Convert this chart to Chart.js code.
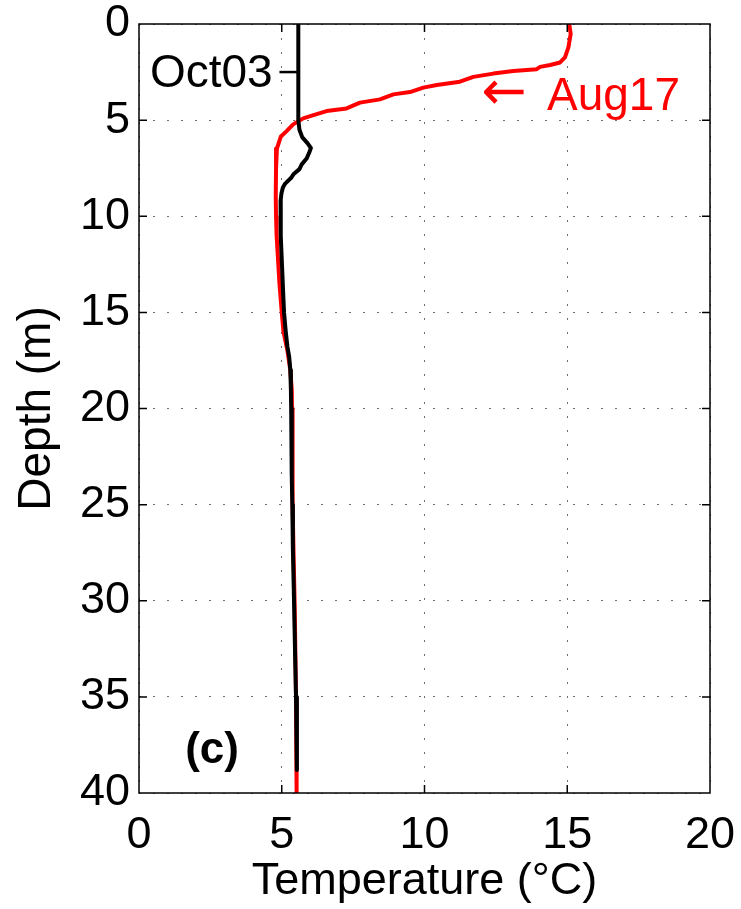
<!DOCTYPE html>
<html>
<head>
<meta charset="utf-8">
<script src="https://cdn.jsdelivr.net/npm/chart.js@4.4.1/dist/chart.umd.min.js"></script>
<style>
  html, body { margin: 0; padding: 0; background: #fff; }
  #wrap { width: 741px; height: 909px; }
</style>
</head>
<body>
<div id="wrap"><canvas id="profileChart" width="741" height="909"></canvas></div>
<script>
// 温度剖面数据：深度(m) 与 温度(°C)
const aug17Depth = [0, 0.52, 1.22, 1.74, 2.0, 2.13, 2.23, 2.35, 2.44, 2.58, 2.75, 3.0, 3.17, 3.31, 3.54, 3.66,
  3.92, 4.09, 4.39, 4.53, 4.74, 4.91, 5.22, 5.57, 5.85, 6.48, 7.5, 9, 10, 11, 12, 13.5, 15, 16, 17, 18, 19, 20,
  22, 25, 28, 30, 33, 35, 38, 40];
const aug17Temp = [15.07, 15.12, 15.04, 14.92, 14.75, 14.4, 14.05, 13.93, 13.11, 12.41, 11.71, 11.24, 10.43, 9.96, 9.49, 8.91,
  8.44, 7.74, 7.27, 6.57, 6.11, 5.75, 5.4, 5.17, 4.97, 4.83, 4.8, 4.79, 4.8, 4.82, 4.86, 4.92, 5.0, 5.06, 5.2, 5.3, 5.35, 5.36,
  5.37, 5.39, 5.42, 5.45, 5.48, 5.5, 5.52, 5.52];

const oct03Depth = [0, 5.0, 5.5, 5.9, 6.2, 6.45, 6.7, 7.0, 7.3, 7.55, 7.8, 8.0, 8.3, 8.5, 8.8, 9.2, 10, 11, 12.6,
  14, 15, 16, 16.8, 17.3, 18, 19, 20, 23.5, 25, 27.3, 30, 33, 35, 38.8];
const oct03Temp = [5.58, 5.58, 5.62, 5.72, 5.9, 6.02, 5.96, 5.87, 5.7, 5.62, 5.42, 5.33, 5.12, 5.04, 4.99, 4.96, 4.96, 4.97, 5.01,
  5.05, 5.08, 5.14, 5.2, 5.26, 5.3, 5.32, 5.33, 5.35, 5.37, 5.39, 5.43, 5.47, 5.5, 5.53];

const tempTicks = [0, 5, 10, 15, 20];
const depthTicks = [0, 5, 10, 15, 20, 25, 30, 35, 40];

const FONT = '"Liberation Sans", Arial, Helvetica, sans-serif';

function toPoints(xs, ys) {
  return xs.map((x, i) => ({ x: x, y: ys[i] }));
}

// 外框、内向刻度与文字注释
const frameAndNotes = {
  id: 'frameAndNotes',
  afterDraw(chart) {
    const { ctx, chartArea: a, scales: { x, y } } = chart;
    ctx.save();
    ctx.strokeStyle = '#000';
    ctx.lineWidth = 1.5;
    ctx.strokeRect(a.left, a.top, a.right - a.left, a.bottom - a.top);

    const len = 8;
    ctx.beginPath();
    tempTicks.slice(1, -1).forEach(v => {
      const px = x.getPixelForValue(v);
      ctx.moveTo(px, a.bottom); ctx.lineTo(px, a.bottom - len);
      ctx.moveTo(px, a.top); ctx.lineTo(px, a.top + len);
    });
    depthTicks.slice(1, -1).forEach(v => {
      const py = y.getPixelForValue(v);
      ctx.moveTo(a.left, py); ctx.lineTo(a.left + len, py);
      ctx.moveTo(a.right, py); ctx.lineTo(a.right - len, py);
    });
    ctx.stroke();

    // Oct03 标签与引线
    ctx.lineWidth = 2.5;
    ctx.beginPath();
    ctx.moveTo(x.getPixelForValue(4.92), y.getPixelForValue(2.5));
    ctx.lineTo(x.getPixelForValue(5.58), y.getPixelForValue(2.5));
    ctx.stroke();

    ctx.fillStyle = '#000';
    ctx.font = '46px ' + FONT;
    ctx.textAlign = 'right';
    ctx.textBaseline = 'middle';
    ctx.fillText('Oct03', x.getPixelForValue(4.68), y.getPixelForValue(2.5) + 2);

    // Aug17 标签
    ctx.fillStyle = '#ff0000';
    ctx.textAlign = 'left';
    ctx.font = '54px "DejaVu Sans", sans-serif';
    ctx.fillText('\u2190', x.getPixelForValue(12.0), y.getPixelForValue(3.7));
    ctx.font = '46px ' + FONT;
    ctx.fillText('Aug17', x.getPixelForValue(14.29), y.getPixelForValue(3.7) + 2);

    // 面板编号
    ctx.fillStyle = '#000';
    ctx.font = 'bold 44px ' + FONT;
    ctx.textAlign = 'center';
    ctx.fillText('(c)', x.getPixelForValue(2.56), y.getPixelForValue(37.8));
    ctx.restore();
  }
};

const gridOpts = { color: '#707070', lineWidth: 1, drawTicks: false };
const borderOpts = { display: false, dash: [2, 12] };

new Chart(document.getElementById('profileChart'), {
  type: 'scatter',
  data: {
    datasets: [
      {
        label: 'Oct03',
        data: toPoints(oct03Temp, oct03Depth),
        showLine: true,
        borderColor: '#000000',
        borderWidth: 4,
        pointRadius: 0,
        tension: 0,
        borderJoinStyle: 'round',
        borderCapStyle: 'round',
        order: 0
      },
      {
        label: 'Aug17',
        data: toPoints(aug17Temp, aug17Depth),
        showLine: true,
        borderColor: '#ff0000',
        borderWidth: 4,
        pointRadius: 0,
        tension: 0,
        borderJoinStyle: 'round',
        borderCapStyle: 'round',
        order: 1
      }
    ]
  },
  options: {
    responsive: false,
    animation: false,
    layout: { padding: { top: 24, right: 31, left: 0, bottom: 0 } },
    plugins: {
      legend: { display: false },
      tooltip: { enabled: false }
    },
    scales: {
      x: {
        type: 'linear',
        min: 0,
        max: 20,
        afterBuildTicks: s => { s.ticks = tempTicks.map(v => ({ value: v })); },
        afterFit: s => { s.height = 116; s.paddingLeft = 0; s.paddingRight = 0; },
        grid: gridOpts,
        border: borderOpts,
        ticks: { color: '#000', padding: 16, font: { family: FONT, size: 45 }, maxRotation: 0 },
        title: {
          display: true,
          text: 'Temperature (°C)',
          color: '#000',
          font: { family: FONT, size: 45 },
          padding: { top: 0, bottom: 0 }
        }
      },
      y: {
        type: 'linear',
        min: 0,
        max: 40,
        reverse: true,
        afterBuildTicks: s => { s.ticks = depthTicks.map(v => ({ value: v })); },
        afterFit: s => { s.width = 139; s.paddingTop = 0; s.paddingBottom = 0; },
        grid: gridOpts,
        border: borderOpts,
        ticks: { color: '#000', padding: 9, font: { family: FONT, size: 45 } },
        title: {
          display: true,
          text: 'Depth (m)',
          color: '#000',
          font: { family: FONT, size: 46 },
          padding: { top: 10, bottom: 0 }
        }
      }
    }
  },
  plugins: [frameAndNotes]
});
</script>
</body>
</html>
